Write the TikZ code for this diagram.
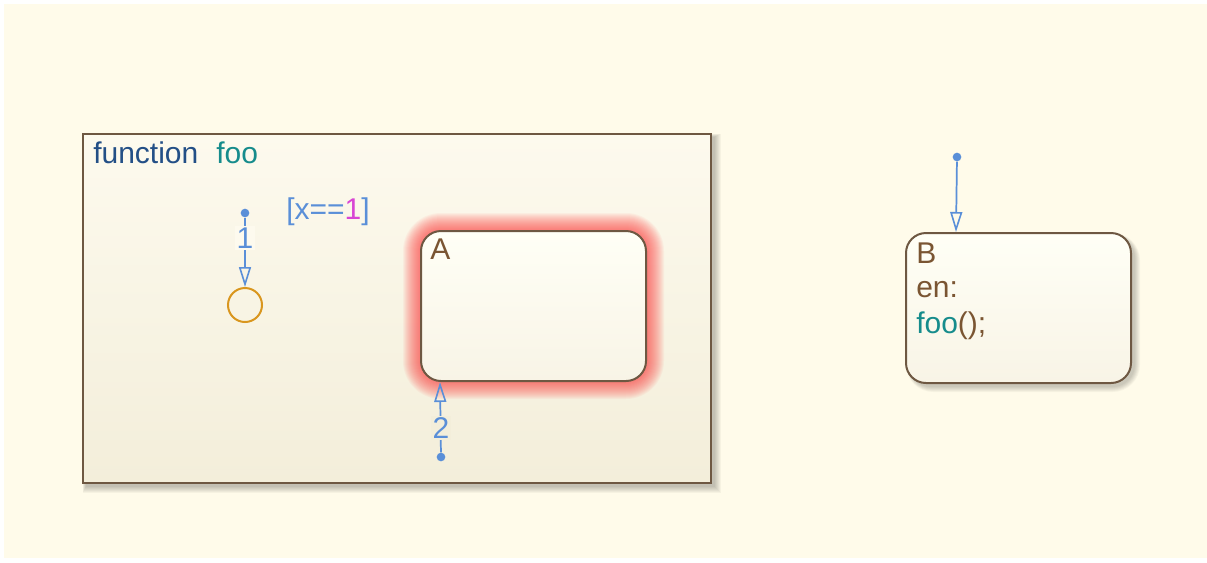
\documentclass[tikz,border=0pt]{standalone}
\usepackage{fontspec}
\setmainfont{Liberation Sans}
\usetikzlibrary{arrows.meta,calc}
\definecolor{bgcream}{HTML}{FFFBEA}
\definecolor{boxtop}{HTML}{FDFAEE}
\definecolor{boxbot}{HTML}{F3EEDA}
\definecolor{stborder}{HTML}{6E5842}
\definecolor{sttop}{HTML}{FFFFF6}
\definecolor{stbot}{HTML}{F8F4E6}
\definecolor{trblue}{HTML}{5A8FD8}
\definecolor{junor}{HTML}{D9961E}
\definecolor{kwblue}{HTML}{234F86}
\definecolor{fnteal}{HTML}{168C8C}
\definecolor{stbrown}{HTML}{7A5532}
\definecolor{nummag}{HTML}{D846D4}
\definecolor{glowred}{HTML}{FF3A3A}
\tikzset{
  statebox/.style={draw=stborder, line width=1.5pt, rounded corners=15pt,
    top color=sttop, bottom color=stbot, minimum width=168.75pt, minimum height=112.5pt, inner sep=0pt},
  funcbox/.style={draw=stborder, line width=1.6pt, top color=boxtop, bottom color=boxbot,
    minimum width=471pt, minimum height=261.75pt, inner sep=0pt},
  txt/.style={font=\fontsize{22.5pt}{27pt}\selectfont, inner sep=0pt, anchor=base west},
  trans/.style={draw=trblue, line width=1.3pt, -{Triangle[open, length=15pt, width=9pt, line width=1.2pt]}},
  srcdot/.style={circle, fill=trblue, inner sep=0pt, minimum size=6.5pt},
  lbl/.style={font=\fontsize{22.5pt}{27pt}\selectfont, text=trblue, inner sep=1pt},
  junc/.style={circle, draw=junor, line width=1.5pt, minimum size=25.5pt, inner sep=0pt}
}
\begin{document}
\begin{tikzpicture}[x=0.75pt, y=-0.75pt]
\useasboundingbox (0,0) rectangle (1207,562);
\fill[white] (0,0) rectangle (1207,562);
\fill[bgcream] (4,4) rectangle (1207,558);
% shadow of function box
\foreach \i in {1,...,7}
  \fill[black, opacity=0.035] (86-\i+\i/2,137-\i+\i/2) rectangle (714+\i,486+\i);
\node[funcbox] (F) at (397,308.5) {};
\node[txt, text=kwblue] (fkw) at (93,163) {function};
\node[txt, text=fnteal] (fname) at (216,163) {foo};
% glow of A
\foreach \i in {1,...,18}
  \fill[glowred, opacity=0.05, rounded corners=15pt+0.75*\i pt] (421-\i,231-\i) rectangle (646+\i,381+\i);
\node[statebox] (A) at (533.5,306) {};
\node[txt, text=stbrown] (Alab) at (430,259) {A};
% junction
\node[junc] (J) at (245,305) {};
\node[srcdot] (d1) at (245,213) {};
\draw[trans] (d1) -- (J);
\node[lbl, fill=boxtop] (l1) at (245,238) {1};
\node[txt] (guard) at (286,219) {\textcolor{trblue}{[x==}\textcolor{nummag}{1}\textcolor{trblue}{]}};
% transition 2
\node[srcdot] (d2) at (441,457) {};
\coordinate (a2) at ($(A.south west)+(20,0)$);
\draw[trans] (d2) -- (a2);
\node[lbl, fill=boxbot] (l2) at (441,428) {2};
% state B
\foreach \i in {1,...,6}
  \fill[black, opacity=0.035, rounded corners=16pt+0.75*\i pt] (909-\i/2,236-\i/2) rectangle (1134+\i,386+\i);
\node[statebox] (B) at (1018.5,308) {};
\node[txt, text=stbrown] (Blab) at (916,263) {B};
\node[txt, text=stbrown] (Ben) at (916,297) {en:};
\node[txt] (Bfoo) at (916,333) {\textcolor{fnteal}{foo}\textcolor{stbrown}{();}};
\node[srcdot] (d3) at (957,157) {};
\coordinate (b3) at ($(B.north west)+(51,0)$);
\draw[trans] (d3) -- (b3);
\end{tikzpicture}
\end{document}
